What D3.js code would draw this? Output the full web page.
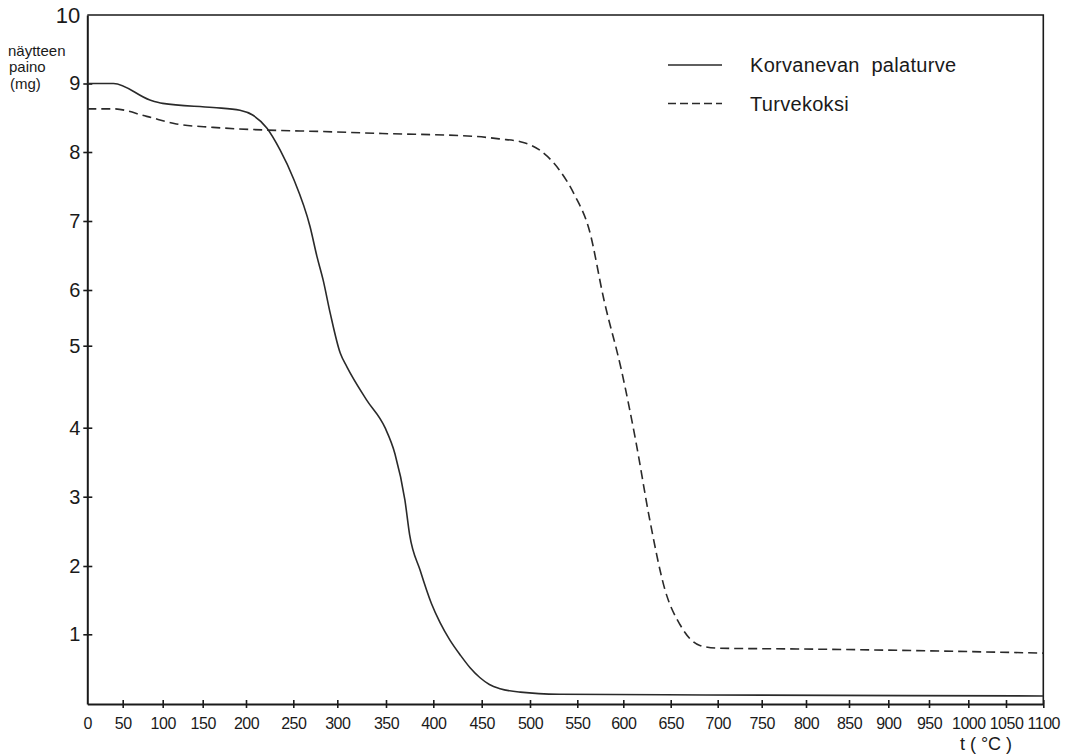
<!DOCTYPE html>
<html>
<head>
<meta charset="utf-8">
<script src="https://cdn.jsdelivr.net/npm/d3@7"></script>
<style>
  html, body { margin: 0; padding: 0; background: #fff; }
  svg { display: block; }
</style>
</head>
<body>
<svg id="chart" width="1075" height="755"></svg>
<script>
// Temperature ticks (°C) and sample-mass ticks (mg)
const tempTicks = [0, 50, 100, 150, 200, 250, 300, 350, 400, 450, 500, 550,
                   600, 650, 700, 750, 800, 850, 900, 950, 1000, 1050, 1100];
const massTicks = [0, 1, 2, 3, 4, 5, 6, 7, 8, 9, 10];
const massTickLabels = ["", "1", "2", "3", "4", "5", "6", "7", "8", "9", "10"];

// Series names
const seriesNames = ["Korvanevan  palaturve", "Turvekoksi"];

// Korvanevan palaturve: temperature (°C) and mass (mg)
const palaturveT = [0, 37, 84, 100, 162, 193, 207, 222, 236, 250, 269, 277, 284,
                    292, 303, 310, 330, 349, 359.5, 370, 375, 386, 398, 407, 417,
                    428, 438, 448, 458, 469, 490, 531, 687, 1100];
const palaturveM = [9.0, 9.0, 8.76, 8.71, 8.65, 8.61, 8.54, 8.35, 8.03, 7.62, 6.92,
                    6.48, 6.14, 5.58, 4.91, 4.74, 4.34, 4.0, 3.62, 2.95, 2.45, 1.94,
                    1.45, 1.17, 0.92, 0.70, 0.52, 0.38, 0.28, 0.22, 0.17, 0.14, 0.13,
                    0.115];

// Turvekoksi: temperature (°C) and mass (mg)
const koksiT = [0, 37, 80, 117, 162, 222, 280, 346, 441, 469, 490, 510, 531, 547,
                563, 579, 598, 613, 628, 644, 660, 681, 702, 790, 913, 1100];
const koksiM = [8.63, 8.63, 8.52, 8.41, 8.36, 8.32, 8.30, 8.27, 8.23, 8.19, 8.15,
                8.03, 7.74, 7.38, 6.87, 5.82, 4.70, 3.82, 2.66, 1.65, 1.14, 0.84,
                0.80, 0.79, 0.77, 0.73];

// Hand-ruled grid: pixel position of each tick along the axes
const xTickPos = [87.3, 122.7, 162.7, 202.7, 246, 293.3, 337.3, 386, 433.3, 481.7,
                  530, 577.3, 623.3, 670.7, 717.7, 761.7, 806, 849, 888.3, 929,
                  968.3, 1006, 1043.3];
const yTickPos = [704, 634.3, 566, 496.7, 427.7, 345.7, 290, 221, 152, 83.5, 15];

const svg = d3.select("#chart");
const x = d3.scaleLinear().domain(tempTicks).range(xTickPos);
const y = d3.scaleLinear().domain(massTicks).range(yTickPos);

const ink = "#1a1a1a";

// Frame (top and right edges)
svg.append("path")
  .attr("d", `M${x(0)},${y(10)} H${x(1100)} V${y(0)}`)
  .attr("fill", "none").attr("stroke", ink).attr("stroke-width", 1.6);

// X axis with crossing ticks
const xAxis = svg.append("g")
  .attr("transform", `translate(0,${y(0)})`)
  .call(d3.axisBottom(x).tickValues(tempTicks).tickSize(0).tickPadding(14)
    .tickFormat(d => d));
xAxis.select(".domain").attr("stroke", ink).attr("stroke-width", 2);
xAxis.selectAll(".tick line").remove();
xAxis.selectAll(".tick").filter(d => d > 0).append("line")
  .attr("y1", -4).attr("y2", 4).attr("stroke", ink).attr("stroke-width", 1.6);
xAxis.selectAll("text")
  .attr("font-family", "'Liberation Sans Narrow', 'Liberation Sans', sans-serif")
  .attr("font-size", 16).attr("letter-spacing", -0.5).attr("fill", ink);

// Y axis with crossing ticks
const yAxis = svg.append("g")
  .attr("transform", `translate(${x(0)},0)`)
  .call(d3.axisLeft(y).tickValues(massTicks).tickSize(0).tickPadding(7)
    .tickFormat((d, i) => massTickLabels[i]));
yAxis.select(".domain").attr("stroke", ink).attr("stroke-width", 2);
yAxis.selectAll(".tick line").remove();
yAxis.selectAll(".tick").filter(d => d > 0 && d < 10).append("line")
  .attr("x1", -4).attr("x2", 5).attr("stroke", ink).attr("stroke-width", 1.6);
yAxis.selectAll("text")
  .attr("font-family", "'Liberation Sans', Arial, sans-serif")
  .attr("font-size", d => d === 10 ? 22 : 20).attr("fill", ink);

// Y axis title
const yTitle = svg.append("text")
  .attr("font-family", "'Liberation Sans', Arial, sans-serif")
  .attr("font-size", 15).attr("fill", ink);
yTitle.append("tspan").attr("x", 8).attr("y", 56).text("näytteen");
yTitle.append("tspan").attr("x", 9).attr("y", 72).text("paino");
yTitle.append("tspan").attr("x", 10).attr("y", 89).text("(mg)");

// X axis title
svg.append("text")
  .attr("x", 986).attr("y", 750)
  .attr("text-anchor", "middle")
  .attr("font-family", "'Liberation Sans', Arial, sans-serif")
  .attr("font-size", 18).attr("fill", ink)
  .attr("xml:space", "preserve")
  .text("t ( °C )");

// Curves
const line = d3.line().x(d => x(d[0])).y(d => y(d[1])).curve(d3.curveMonotoneX);
const palaturve = palaturveT.map((t, i) => [t, palaturveM[i]]);
const koksi = koksiT.map((t, i) => [t, koksiM[i]]);

svg.append("path").datum(palaturve)
  .attr("d", line).attr("fill", "none")
  .attr("stroke", "#2a2a2a").attr("stroke-width", 1.6);

svg.append("path").datum(koksi)
  .attr("d", line).attr("fill", "none")
  .attr("stroke", "#2a2a2a").attr("stroke-width", 1.6)
  .attr("stroke-dasharray", "9,5");

// Legend
const legend = svg.append("g");
const dashes = [null, "8,4"];
seriesNames.forEach((name, i) => {
  const yy = 65 + i * 38.5;
  legend.append("line")
    .attr("x1", 668).attr("x2", 722).attr("y1", yy).attr("y2", yy)
    .attr("stroke", "#2a2a2a").attr("stroke-width", 1.4)
    .attr("stroke-dasharray", dashes[i]);
  legend.append("text")
    .attr("x", 750).attr("y", yy + 7)
    .attr("font-family", "'Liberation Sans', Arial, sans-serif")
    .attr("font-size", 20).attr("fill", ink)
    .attr("letter-spacing", 0.3)
    .attr("xml:space", "preserve")
    .text(name);
});
</script>
</body>
</html>
